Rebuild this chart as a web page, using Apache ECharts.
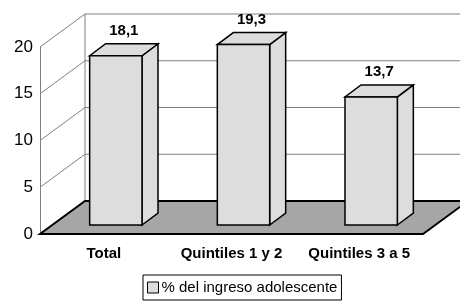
<!DOCTYPE html>
<html>
<head>
<meta charset="utf-8">
<script src="https://cdn.jsdelivr.net/npm/echarts@6/dist/echarts.min.js"></script>
<style>
  html, body { margin: 0; padding: 0; background: #fff; }
  #chart { width: 460px; height: 301px; }
</style>
</head>
<body>
<div id="chart"></div>
<script>
const categories = ['Total', 'Quintiles 1 y 2', 'Quintiles 3 a 5']
const values = [18.1, 19.3, 13.7]
const valueLabels = ['18,1', '19,3', '13,7']
const seriesName = '% del ingreso adolescente'
const yTicks = [0, 5, 10, 15, 20]

// depth of the 3d box (back wall offset) and of each bar
const depth = { dx: 45, dy: -33 }
const barDepth = { dx: 16, dy: -12 }
const barShift = { dx: 12, dy: -9 }

const chart = echarts.init(document.getElementById('chart'))

const renderFrame = (params, api) => {
  const cs = params.coordSys
  const x0 = cs.x
  const x1 = cs.x + cs.width
  const yb = cs.y + cs.height
  const children = []
  // back wall lines and left wall diagonals
  yTicks.forEach(v => {
    const p = api.coord([0, v])
    children.push({
      type: 'line',
      shape: { x1: x0, y1: p[1], x2: x0 + depth.dx, y2: p[1] + depth.dy },
      style: { stroke: '#808080', lineWidth: 1 }
    })
    children.push({
      type: 'line',
      shape: { x1: x0 + depth.dx, y1: p[1] + depth.dy, x2: 460, y2: p[1] + depth.dy },
      style: { stroke: '#808080', lineWidth: 1 }
    })
  })
  const top = api.coord([0, 20])[1]
  children.push({
    type: 'line',
    shape: { x1: x0 + depth.dx, y1: yb + depth.dy, x2: x0 + depth.dx, y2: top + depth.dy },
    style: { stroke: '#808080', lineWidth: 1 }
  })
  // floor
  children.push({
    type: 'polygon',
    shape: { points: [[x0, yb], [x1, yb], [x1 + depth.dx, yb + depth.dy], [x0 + depth.dx, yb + depth.dy]] },
    style: { fill: '#a6a6a6', stroke: '#000', lineWidth: 2, lineJoin: 'miter' }
  })
  return { type: 'group', children }
}

const renderBar = (params, api) => {
  const i = api.value(0)
  const v = api.value(1)
  const base = api.coord([i, 0])
  const topP = api.coord([i, v])
  const w = api.size([1, 0])[0] * 0.41
  const cx = base[0] + barShift.dx
  const l = cx - w / 2
  const r = cx + w / 2
  const b = base[1] + barShift.dy
  const t = topP[1] + barShift.dy
  const dx = barDepth.dx
  const dy = barDepth.dy
  const style = { fill: '#dddddd', stroke: '#000', lineWidth: 1.5, lineJoin: 'miter' }
  return {
    type: 'group',
    children: [
      { type: 'polygon', shape: { points: [[r, b], [r + dx, b + dy], [r + dx, t + dy], [r, t]] }, style },
      { type: 'polygon', shape: { points: [[l, t], [r, t], [r + dx, t + dy], [l + dx, t + dy]] }, style },
      { type: 'rect', shape: { x: l, y: t, width: w, height: b - t }, style },
      {
        type: 'text',
        x: cx + dx / 2,
        y: t + dy - 13,
        style: {
          text: valueLabels[params.dataIndex],
          fill: '#000',
          font: 'bold 15px "Liberation Sans", Arial, sans-serif',
          align: 'center',
          verticalAlign: 'middle'
        }
      }
    ]
  }
}

chart.setOption({
  animation: false,
  textStyle: { fontFamily: '"Liberation Sans", Arial, sans-serif' },
  grid: { left: 40, right: 37, top: 47, bottom: 67 },
  legend: {
    data: [seriesName],
    left: 143,
    top: 275,
    icon: 'rect',
    itemWidth: 11,
    itemHeight: 11,
    itemGap: 4,
    padding: [5, 4, 5, 4],
    borderColor: '#000',
    borderWidth: 1,
    itemStyle: { color: '#dddddd', borderColor: '#000', borderWidth: 1 },
    textStyle: { fontSize: 15, color: '#000', padding: [0, 0, 0, -2] }
  },
  xAxis: {
    type: 'category',
    data: categories,
    axisLine: { show: false },
    axisTick: { show: false },
    axisLabel: { color: '#000', fontSize: 15, fontWeight: 'bold', margin: 12, interval: 0, hideOverlap: false }
  },
  yAxis: {
    type: 'value',
    min: 0,
    max: 20,
    interval: 5,
    axisLine: { show: true, lineStyle: { color: '#808080', width: 1 } },
    axisTick: { show: false },
    splitLine: { show: false },
    axisLabel: { color: '#000', fontSize: 17, margin: 7 }
  },
  series: [
    {
      name: 'frame',
      type: 'custom',
      z: 1,
      silent: true,
      data: [[0, 0]],
      renderItem: renderFrame
    },
    {
      name: seriesName,
      type: 'custom',
      z: 2,
      itemStyle: { color: '#dddddd', borderColor: '#000', borderWidth: 1 },
      data: values.map((v, i) => [i, v]),
      renderItem: renderBar
    }
  ]
})
</script>
</body>
</html>
